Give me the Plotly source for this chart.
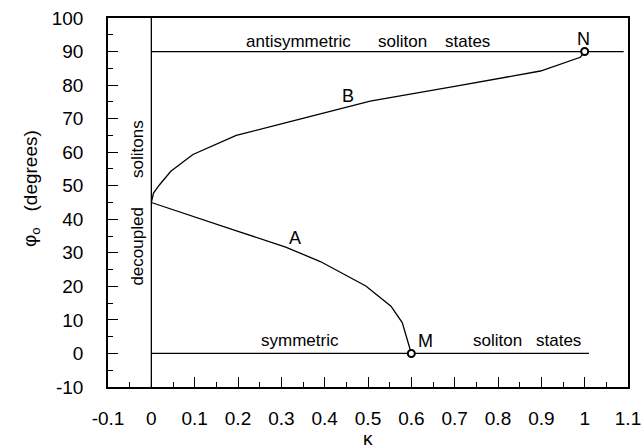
import plotly.graph_objects as go

# ---- data ----
kappa_A = [0.0, 0.10, 0.15, 0.20, 0.31, 0.39, 0.495, 0.553, 0.579, 0.597, 0.60]
phi_A = [45.0, 40.8, 38.6, 36.4, 31.7, 27.4, 20.1, 14.1, 9.2, 1.5, 0.0]

kappa_B = [0.0, 0.005, 0.019, 0.045, 0.096, 0.196, 0.327, 0.505, 0.70, 0.898, 0.99, 1.0]
phi_B = [45.0, 47.8, 50.3, 54.3, 59.3, 65.0, 69.3, 75.2, 79.6, 84.2, 88.3, 90.0]

kappa_vert = [0.0, 0.0]
phi_vert = [-10.0, 100.0]
kappa_anti = [0.0, 1.09]
phi_anti = [90.0, 90.0]
kappa_sym = [0.0, 1.01]
phi_sym = [0.0, 0.0]

points_k = [1.0, 0.6]
points_phi = [90.0, 0.0]

x_ticks = [-0.1, 0.0, 0.1, 0.2, 0.3, 0.4, 0.5, 0.6, 0.7, 0.8, 0.9, 1.0, 1.1]
x_ticktext = ["-0.1", "0", "0.1", "0.2", "0.3", "0.4", "0.5", "0.6", "0.7", "0.8", "0.9", "1", "1.1"]
x_minor = [-0.05, 0.05, 0.15, 0.25, 0.35, 0.45, 0.55, 0.65, 0.75, 0.85, 0.95, 1.05]
y_ticks = [-10, 0, 10, 20, 30, 40, 50, 60, 70, 80, 90, 100]
y_ticktext = ["-10", "0", "10", "20", "30", "40", "50", "60", "70", "80", "90", "100"]
y_minor = [-5, 5, 15, 25, 35, 45, 55, 65, 75, 85, 95]

FONT = "Liberation Sans, Arial, sans-serif"

fig = go.Figure()
line_style = dict(color="black", width=1.3)
for xs, ys in [(kappa_vert, phi_vert), (kappa_anti, phi_anti), (kappa_sym, phi_sym),
               (kappa_A, phi_A), (kappa_B, phi_B)]:
    fig.add_trace(go.Scatter(x=xs, y=ys, mode="lines", line=line_style,
                             showlegend=False, hoverinfo="skip"))
fig.add_trace(go.Scatter(x=points_k, y=points_phi, mode="markers",
                         marker=dict(symbol="circle", size=7, color="white",
                                     line=dict(color="black", width=2)),
                         showlegend=False, hoverinfo="skip"))

labels = [
    ("antisymmetric", 0.34, 92.9, 0),
    ("soliton", 0.58, 92.9, 0),
    ("states", 0.73, 92.9, 0),
    ("N", 0.998, 93.8, 0),
    ("B", 0.454, 76.7, 0),
    ("A", 0.331, 34.4, 0),
    ("symmetric", 0.343, 3.8, 0),
    ("M", 0.632, 3.8, 0),
    ("soliton", 0.799, 3.8, 0),
    ("states", 0.94, 3.8, 0),
    ("solitons", -0.032, 61.1, -90),
    ("decoupled", -0.032, 32.0, -90),
]
for txt, xx, yy, ang in labels:
    size = 18 if txt in ("N", "B", "A", "M") else 17
    fig.add_annotation(x=xx, y=yy, xref="x", yref="y", text=txt, showarrow=False,
                       textangle=ang, font=dict(family=FONT, size=size, color="black"),
                       xanchor="center", yanchor="middle")

fig.add_annotation(x=(17 - 108) / 520, y=(387 - 171) / 369, xref="paper", yref="paper",
                   text="(degrees)", textangle=-90, showarrow=False,
                   font=dict(family=FONT, size=19, color="black"))
fig.add_annotation(x=(17 - 108) / 520, y=(387 - 237) / 369, xref="paper", yref="paper",
                   text="φ<sub>o</sub>", textangle=-90, showarrow=False,
                   font=dict(family=FONT, size=19, color="black"))
fig.add_annotation(x=0.5, y=(387 - 451) / 369, xref="paper", yref="paper",
                   text="κ", showarrow=False,
                   font=dict(family=FONT, size=19, color="black"))

axis_common = dict(showgrid=False, zeroline=False, showline=True, linecolor="black",
                   linewidth=1.6, mirror=True, ticks="inside", ticklen=10, tickwidth=1.2,
                   tickcolor="black", automargin=False,
                   tickfont=dict(family=FONT, size=19, color="black"))
fig.update_xaxes(range=[-0.1, 1.1], tickmode="array", tickvals=x_ticks, ticktext=x_ticktext,
                 minor=dict(ticks="inside", ticklen=5, tickwidth=1, tickcolor="black",
                            tickmode="array", tickvals=x_minor),
                 ticklabelstandoff=13, **axis_common)
fig.update_yaxes(range=[-10, 100], tickmode="array", tickvals=y_ticks, ticktext=y_ticktext,
                 minor=dict(ticks="inside", ticklen=5, tickwidth=1, tickcolor="black",
                            tickmode="array", tickvals=y_minor),
                 ticklabelstandoff=19, **axis_common)

fig.update_layout(width=642, height=447, margin=dict(l=108, r=14, t=18, b=60),
                  paper_bgcolor="white", plot_bgcolor="white", showlegend=False)

fig.write_html("out.html")
